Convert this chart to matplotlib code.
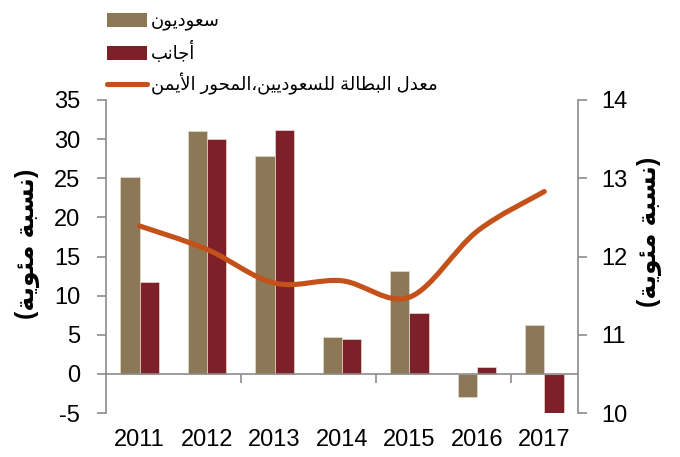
import numpy as np
import matplotlib
matplotlib.use("Agg")
import matplotlib.pyplot as plt
from matplotlib.path import Path
from matplotlib.patches import PathPatch, Patch
from matplotlib.lines import Line2D

plt.rcParams["axes.unicode_minus"] = False

# data
years = ["2011", "2012", "2013", "2014", "2015", "2016", "2017"]
saudis = [25.2, 31.0, 27.9, 4.7, 13.1, -2.9, 6.2]
foreigners = [11.7, 30.0, 31.2, 4.5, 7.8, 0.9, -5.3]
unemployment = [12.39, 12.09, 11.66, 11.69, 11.48, 12.32, 12.83]

label_saudis = "سعوديون"
label_foreign = "أجانب"
label_rate = "معدل البطالة للسعوديين،المحور الأيمن"
label_axis = "(نسبة مئوية)"

TAN = "#8C7856"
RED = "#7D2029"
ORANGE = "#C4511A"
GRAY = "#8C8C8C"
LATIN = ["Liberation Sans", "DejaVu Sans"]

# matplotlib does no arabic shaping, so pick the contextual forms by hand
# (isolated, final, initial, medial)
FORMS = {
    "ا": ("\ufe8d", "\ufe8e", None, None),
    "أ": ("\ufe83", "\ufe84", None, None),
    "ب": ("\ufe8f", "\ufe90", "\ufe91", "\ufe92"),
    "ة": ("\ufe93", "\ufe94", None, None),
    "ج": ("\ufe9d", "\ufe9e", "\ufe9f", "\ufea0"),
    "ح": ("\ufea1", "\ufea2", "\ufea3", "\ufea4"),
    "د": ("\ufea9", "\ufeaa", None, None),
    "ر": ("\ufead", "\ufeae", None, None),
    "س": ("\ufeb1", "\ufeb2", "\ufeb3", "\ufeb4"),
    "ط": ("\ufec1", "\ufec2", "\ufec3", "\ufec4"),
    "ع": ("\ufec9", "\ufeca", "\ufecb", "\ufecc"),
    "ل": ("\ufedd", "\ufede", "\ufedf", "\ufee0"),
    "م": ("\ufee1", "\ufee2", "\ufee3", "\ufee4"),
    "ن": ("\ufee5", "\ufee6", "\ufee7", "\ufee8"),
    "و": ("\ufeed", "\ufeee", None, None),
    "ي": ("\ufef1", "\ufef2", "\ufef3", "\ufef4"),
    "ئ": ("\ufe89", "\ufe8a", "\ufe8b", "\ufe8c"),
    "لا": ("\ufefb", "\ufefc", None, None),
    "لأ": ("\ufef7", "\ufef8", None, None),
}
MIRROR = {"(": ")", ")": "("}


def shape(text):
    tokens = []
    i = 0
    while i < len(text):
        if text[i] == "ل" and i + 1 < len(text) and text[i + 1] in "اأ":
            tokens.append(text[i:i + 2])
            i += 2
        else:
            tokens.append(text[i])
            i += 1
    out = []
    for k, t in enumerate(tokens):
        f = FORMS.get(t)
        if f is None:
            out.append(MIRROR.get(t, t))
            continue
        prev = FORMS.get(tokens[k - 1]) if k > 0 else None
        nxt = FORMS.get(tokens[k + 1]) if k + 1 < len(tokens) else None
        jp = prev is not None and prev[2] is not None
        jn = f[2] is not None and nxt is not None
        if jp and jn:
            out.append(f[3])
        elif jp:
            out.append(f[1])
        elif jn:
            out.append(f[2])
        else:
            out.append(f[0])
    return "".join(reversed(out))


def smooth_path(xs, ys):
    pts = np.column_stack([xs, ys]).astype(float)
    n = len(pts)
    verts = [pts[0]]
    codes = [Path.MOVETO]
    for i in range(n - 1):
        p0 = pts[i - 1] if i > 0 else pts[i]
        p1 = pts[i]
        p2 = pts[i + 1]
        p3 = pts[i + 2] if i + 2 < n else pts[i + 1]
        verts += [p1 + (p2 - p0) / 6, p2 - (p3 - p1) / 6, p2]
        codes += [Path.CURVE4] * 3
    return Path(verts, codes)


fig = plt.figure(figsize=(6.8, 4.57), dpi=100)
ax = fig.add_axes([106 / 680, 1 - 413 / 457, 472 / 680, 313 / 457])
ax2 = ax.twinx()

x = np.arange(len(years))
w = 0.285
ax.bar(x - w, saudis, w, align="edge", color=TAN, edgecolor="#E6DCCB", linewidth=0.5, zorder=2)
ax.bar(x, foreigners, w, align="edge", color=RED, edgecolor="#E6DCCB", linewidth=0.5, zorder=2)

ax.set_xlim(-0.5, len(years) - 0.5)
ax.set_ylim(-5, 35)
ax.set_yticks(range(-5, 36, 5))

for s in ["top", "right"]:
    ax.spines[s].set_visible(False)
ax.spines["bottom"].set_position(("data", 0))
for s in ["left", "bottom"]:
    ax.spines[s].set_color(GRAY)
    ax.spines[s].set_linewidth(1.2)

ax.set_xticks(x)
ax.set_xticklabels(years, fontfamily=LATIN, fontsize=17)
ax.set_xticks([1.5, 3.5, 5.5], minor=True)
ax.tick_params(axis="x", which="major", length=0, pad=40)
ax.tick_params(axis="x", which="minor", direction="out", length=6.5, width=1.2, color=GRAY)
ax.tick_params(axis="y", direction="out", length=6.5, width=1.2, color=GRAY, pad=12, labelsize=17)
for t in ax.get_yticklabels():
    t.set_fontfamily(LATIN)

ax2.add_patch(PathPatch(smooth_path(x, unemployment), fill=False, edgecolor=ORANGE,
                        linewidth=3.7, capstyle="round", zorder=3))
ax2.set_ylim(10, 14)
ax2.set_yticks(range(10, 15))
for s in ["top", "left", "bottom"]:
    ax2.spines[s].set_visible(False)
ax2.spines["right"].set_color(GRAY)
ax2.spines["right"].set_linewidth(1.2)
ax2.tick_params(axis="y", direction="out", length=6.5, width=1.2, color=GRAY, pad=10, labelsize=17)
for t in ax2.get_yticklabels():
    t.set_fontfamily(LATIN)

ax.set_ylabel(shape(label_axis), fontsize=18, fontweight="bold", family=LATIN, rotation=90)
ax.yaxis.set_label_coords(-0.140, 0.540)
ax2.set_ylabel(shape(label_axis), fontsize=18, fontweight="bold", family=LATIN, rotation=90)
ax2.yaxis.set_label_coords(1.125, 0.578)

handles = [
    Patch(facecolor=TAN),
    Patch(facecolor=RED),
    Line2D([], [], color=ORANGE, linewidth=3.7, solid_capstyle="round"),
]
labels = [shape(label_saudis), shape(label_foreign), shape(label_rate)]
fig.legend(handles, labels, loc="upper left", bbox_to_anchor=(107 / 680, 1 - 13 / 457),
           frameon=False, borderpad=0, borderaxespad=0, handlelength=2.2, handleheight=0.85,
           handletextpad=0.25, labelspacing=0.55, prop={"family": LATIN, "size": 13})

fig.savefig("out.png", dpi=100)
